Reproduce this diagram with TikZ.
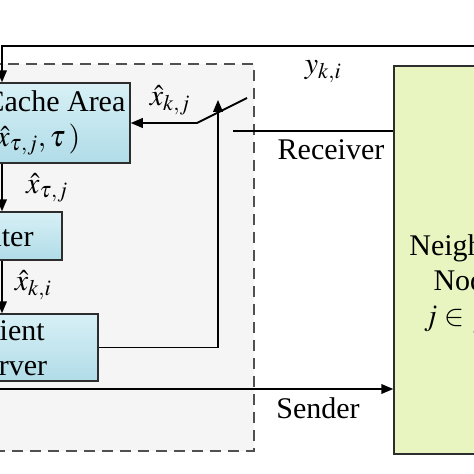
\documentclass[tikz,border=0pt]{standalone}
\usepackage{mathptmx}
\usepackage{fontspec}
\setmainfont{Liberation Serif}
\usetikzlibrary{shapes,arrows}

\definecolor{cachetop}{RGB}{216,240,246}
\definecolor{cachebot}{RGB}{176,220,232}
\definecolor{neighfill}{RGB}{233,245,192}
\definecolor{boxedge}{RGB}{45,45,45}
\definecolor{agentfill}{RGB}{245,245,245}
\definecolor{agentedge}{RGB}{80,80,80}

\begin{document}
\begin{tikzpicture}[x=1pt, y=-1pt, line width=1.8pt, >=triangle 45,
  font=\fontsize{30}{35}\selectfont,
  blockb/.style={draw=boxedge, line width=1.6pt, top color=cachetop, bottom color=cachebot, inner sep=0pt},
  blockg/.style={draw=boxedge, line width=1.6pt, fill=neighfill, inner sep=0pt},
  agentbox/.style={draw=agentedge, fill=agentfill, line width=1.4pt, dash pattern=on 11pt off 7pt, inner sep=0pt}]

\useasboundingbox (0,0) rectangle (474,474);
\clip (0,0) rectangle (474,474);

%\draw[help lines] (0,0) grid (474,474);
				% zona discontinua
				\node [agentbox, minimum width=404, minimum height=387] (agent) at (52,257.5) {};
				% bloques
				\node [blockb, minimum width=150, minimum height=80, align=left] (cache) at (55,123) {Cache Area\\$(\hat{x}_{\tau,j},\tau\,)$};
				\node [blockb, minimum width=122, minimum height=48] (filter) at (1,236) {Filter};
				\node [blockb, minimum width=180, minimum height=67, align=center] (client) at (8,347.5) {Client\\Server};
				\node [blockg, minimum width=144, minimum height=388] (neigh) at (466,260) {};
				\node [align=center, yshift=-24pt] (neightxt) at (neigh.center) {Neighbor\\Node\\$j\in\mathcal{J}$};
				% puntos auxiliares
				\coordinate (fbR) at (480,46);
				\coordinate (fbL) at (2,46);
				\coordinate (swup) at (218,100);
				\coordinate (swtip) at (247,98);
				\coordinate (swpivot) at (197,123);
				\coordinate (rxL) at (233,131);
				\coordinate (txL) at (-10,389);
				% lineas
				\draw [->] (fbR) -- (fbL) -- (fbL |- cache.north); %realimentacion superior
				\draw [->] (fbL |- cache.south) -- (fbL |- filter.north);
				\draw [->] (fbL |- filter.south) -- (fbL |- client.north);
				\draw [->] (client.east) -| (swup);
				\draw [->] (swtip) -- (swpivot) -- (cache.east); %interruptor
				\draw [-] (rxL) -- (rxL -| neigh.west); %linea receptor
				\draw [->] (txL) -- (txL -| neigh.west); %linea emisor
				% etiquetas
				\node (xkj) at (170,100) {$\hat{x}_{k,j}$};
				\node (yki) at (323,72) {$y_{k,i}$};
				\node (rxlab) at (331,150) {Receiver};
				\node (txlab) at (318,408) {Sender};
				\node (xtj) at (47,188) {$\hat{x}_{\tau,j}$};
				\node (xki) at (33,285) {$\hat{x}_{k,i}$};

\end{tikzpicture}
\end{document}
